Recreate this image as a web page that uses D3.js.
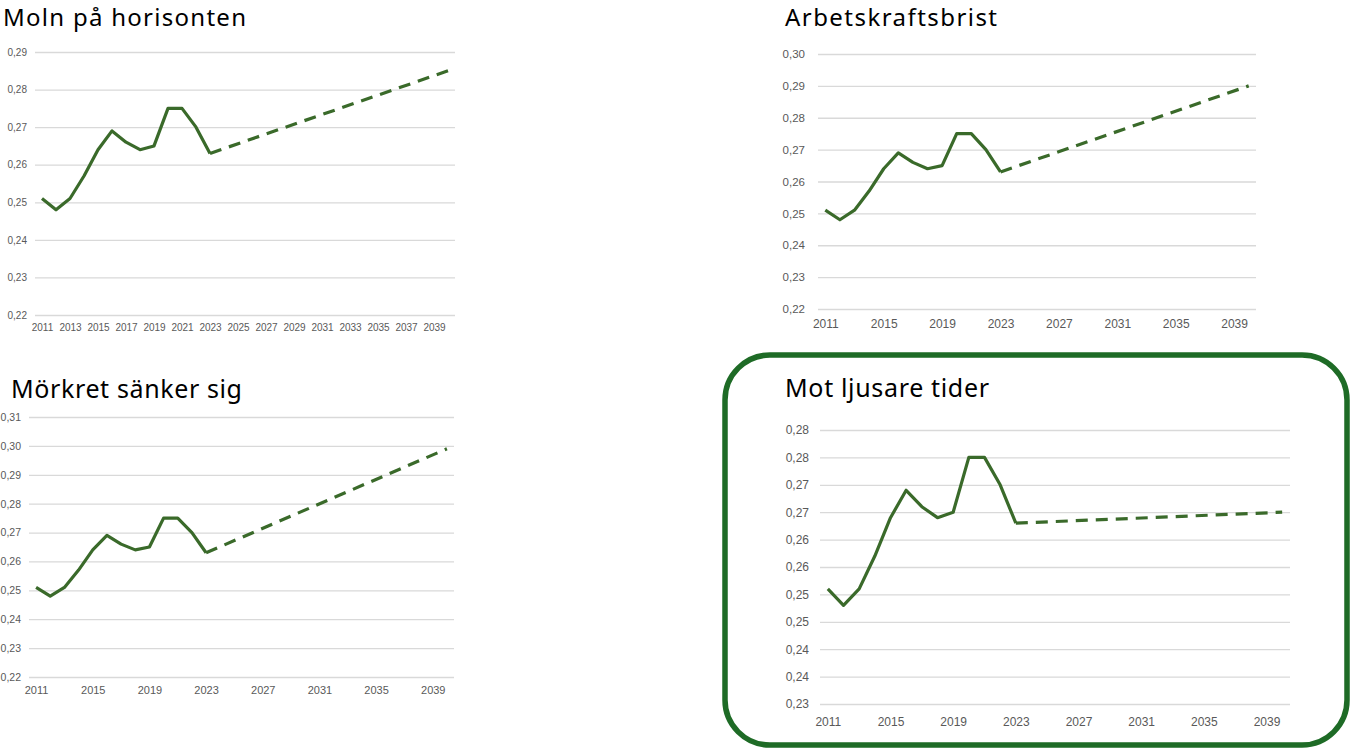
<!DOCTYPE html>
<html>
    <head>
        <title>Scenarier</title>
        <style>
            body { margin:0; background:white; }
            svg { display:block; }
            .title { font-family:"Noto Sans", sans-serif; fill:#000; }
            .axis text { font-family:"Liberation Sans", Arial, sans-serif; fill:#595959; }
            .axis .domain { display:none; }
        </style>
    </head>
    <body>
        <svg id="chart" width="1353" height="752"></svg>
        <script src="https://d3js.org/d3.v7.min.js"></script>
        <script>
            // categories
            var years = [2011, 2012, 2013, 2014, 2015, 2016, 2017, 2018, 2019, 2020,
                         2021, 2022, 2023, 2024, 2025, 2026, 2027, 2028, 2029, 2030,
                         2031, 2032, 2033, 2034, 2035, 2036, 2037, 2038, 2039, 2040];

            // outcome, same in all four scenarios
            var histYears  = [2011, 2012, 2013, 2014, 2015, 2016, 2017, 2018, 2019, 2020, 2021, 2022, 2023];
            var histValues = [0.251, 0.248, 0.251, 0.257, 0.264, 0.269, 0.266, 0.264, 0.265, 0.275, 0.275, 0.270, 0.263];

            // forecasts (dashed)
            var forecastYears   = [2023, 2040];
            var molnForecast    = [0.263, 0.285];
            var arbetsForecast  = [0.263, 0.290];
            var morkretForecast = [0.263, 0.299];
            var ljusForecast    = [0.263, 0.265];

            // tick labels
            var xTicksEvery2 = [2011, 2013, 2015, 2017, 2019, 2021, 2023, 2025, 2027, 2029, 2031, 2033, 2035, 2037, 2039];
            var xTicksEvery4 = [2011, 2015, 2019, 2023, 2027, 2031, 2035, 2039];

            var molnTicks     = [0.22, 0.23, 0.24, 0.25, 0.26, 0.27, 0.28, 0.29];
            var molnLabels    = ["0,22", "0,23", "0,24", "0,25", "0,26", "0,27", "0,28", "0,29"];
            var arbetsTicks   = [0.22, 0.23, 0.24, 0.25, 0.26, 0.27, 0.28, 0.29, 0.30];
            var arbetsLabels  = ["0,22", "0,23", "0,24", "0,25", "0,26", "0,27", "0,28", "0,29", "0,30"];
            var morkretTicks  = [0.22, 0.23, 0.24, 0.25, 0.26, 0.27, 0.28, 0.29, 0.30, 0.31];
            var morkretLabels = ["0,22", "0,23", "0,24", "0,25", "0,26", "0,27", "0,28", "0,29", "0,30", "0,31"];
            var ljusTicks     = [0.23, 0.235, 0.24, 0.245, 0.25, 0.255, 0.26, 0.265, 0.27, 0.275, 0.28];
            var ljusLabels    = ["0,23", "0,24", "0,24", "0,25", "0,25", "0,26", "0,26", "0,27", "0,27", "0,28", "0,28"];

            var lineColor = "#3a6a2a";
            var svg = d3.select("#chart");

            function drawPanel(p) {
                var g = svg.append("g");

                g.append("text")
                    .attr("class", "title")
                    .attr("x", p.titleX)
                    .attr("y", p.titleY)
                    .attr("font-size", p.titleSize)
                    .attr("textLength", p.titleLen)
                    .text(p.title);

                var x = d3.scalePoint()
                    .domain(years)
                    .range([p.x0, p.x1])
                    .padding(0.5);
                var y = d3.scaleLinear()
                    .domain([p.yTicks[0], p.yTicks[p.yTicks.length - 1]])
                    .range([p.yBottom, p.yTop]);

                // y axis + gridlines
                var ya = g.append("g")
                    .attr("class", "axis")
                    .attr("transform", "translate(" + p.x0 + ",0)")
                    .call(d3.axisLeft(y)
                        .tickValues(p.yTicks)
                        .tickFormat(function(d, i) { return p.yLabels[i]; })
                        .tickSize(-(p.x1 - p.x0))
                        .tickPadding(p.yPad));
                ya.selectAll("line").attr("stroke", "#d9d9d9").attr("stroke-width", 1.3);
                ya.selectAll("text").attr("font-size", p.fontY);

                // x axis
                var xa = g.append("g")
                    .attr("class", "axis")
                    .attr("transform", "translate(0," + p.yBottom + ")")
                    .call(d3.axisBottom(x)
                        .tickValues(p.xTicks)
                        .tickSize(0)
                        .tickPadding(p.xPad));
                xa.selectAll("text").attr("font-size", p.fontX);

                var line = d3.line()
                    .x(function(d) { return x(d[0]); })
                    .y(function(d) { return y(d[1]); });

                g.append("path")
                    .datum(d3.zip(histYears, histValues))
                    .attr("d", line)
                    .attr("fill", "none")
                    .attr("stroke", lineColor)
                    .attr("stroke-width", 3.2)
                    .attr("stroke-linejoin", "round");

                g.append("path")
                    .datum(d3.zip(forecastYears, p.forecast))
                    .attr("d", line)
                    .attr("fill", "none")
                    .attr("stroke", lineColor)
                    .attr("stroke-width", 3.2)
                    .attr("stroke-dasharray", "12,8");
            }

            drawPanel({
                title: "Moln på horisonten", titleX: 3, titleY: 26, titleSize: 24, titleLen: 243,
                x0: 35, x1: 455, yTop: 52, yBottom: 315,
                yTicks: molnTicks, yLabels: molnLabels, yPad: 8, fontY: 10,
                xTicks: xTicksEvery2, xPad: 9, fontX: 10,
                forecast: molnForecast
            });

            drawPanel({
                title: "Arbetskraftsbrist", titleX: 785, titleY: 26, titleSize: 24, titleLen: 212,
                x0: 818, x1: 1256, yTop: 54, yBottom: 309,
                yTicks: arbetsTicks, yLabels: arbetsLabels, yPad: 13, fontY: 11.5,
                xTicks: xTicksEvery4, xPad: 10, fontX: 12,
                forecast: arbetsForecast
            });

            drawPanel({
                title: "Mörkret sänker sig", titleX: 11, titleY: 398, titleSize: 25, titleLen: 231,
                x0: 29, x1: 454, yTop: 417, yBottom: 677,
                yTicks: morkretTicks, yLabels: morkretLabels, yPad: 8, fontY: 10.5,
                xTicks: xTicksEvery4, xPad: 9, fontX: 11,
                forecast: morkretForecast
            });

            // highlighted scenario frame
            svg.append("rect")
                .attr("x", 725)
                .attr("y", 355)
                .attr("width", 622)
                .attr("height", 390)
                .attr("rx", 45)
                .attr("fill", "none")
                .attr("stroke", "#1e6b26")
                .attr("stroke-width", 5.5);

            drawPanel({
                title: "Mot ljusare tider", titleX: 785, titleY: 397, titleSize: 25, titleLen: 204,
                x0: 820, x1: 1290, yTop: 430, yBottom: 704,
                yTicks: ljusTicks, yLabels: ljusLabels, yPad: 11, fontY: 12,
                xTicks: xTicksEvery4, xPad: 13, fontX: 12,
                forecast: ljusForecast
            });
        </script>
    </body>
</html>
